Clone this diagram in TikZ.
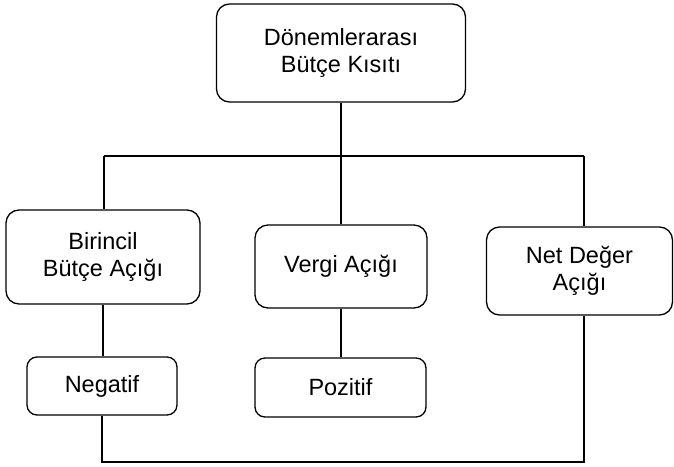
\documentclass[tikz,border=0pt]{standalone}
\usepackage{fontspec}
\setmainfont{Liberation Sans}
\begin{document}
\begin{tikzpicture}[x=1pt,y=-1pt,
  box/.style={draw=black, line width=1.3pt, rounded corners=13pt, align=center,
    inner sep=0pt, font=\fontsize{23.5}{27}\selectfont},
  small/.style={box, rounded corners=10pt},
  conn/.style={draw=black, line width=1.3pt}]
\useasboundingbox (0,0) rectangle (674,466);
\node[box, minimum width=249pt, minimum height=98pt] (top) at (341,53) {Dönemlerarası\\Bütçe Kısıtı};
\node[box, minimum width=194pt, minimum height=94pt] (left) at (103,257) {Birincil\\Bütçe Açığı};
\node[box, minimum width=172pt, minimum height=83pt] (mid) at (341,266.5) {Vergi Açığı};
\node[box, minimum width=186pt, minimum height=88pt] (right) at (579.5,271) {Net Değer\\Açığı};
\node[small, minimum width=150pt, minimum height=58pt] (neg) at (102,386) {Negatif};
\node[small, minimum width=171pt, minimum height=59pt] (poz) at (340.5,387.5) {Pozitif};
\coordinate (bl) at (104,156);
\coordinate (br) at (584,156);
\coordinate (bb) at (584,462);
\draw[conn] (top.south) -- (mid.north);
\draw[conn] (bl) -- (br);
\draw[conn] (bl) -- (bl |- left.north);
\draw[conn] (br) -- (br |- right.north);
\draw[conn] (left.south) -- (left.south |- neg.north);
\draw[conn] (mid.south) -- (mid.south |- poz.north);
\draw[conn] (neg.south) |- (bb) -- (bb |- right.south);
\end{tikzpicture}
\end{document}
